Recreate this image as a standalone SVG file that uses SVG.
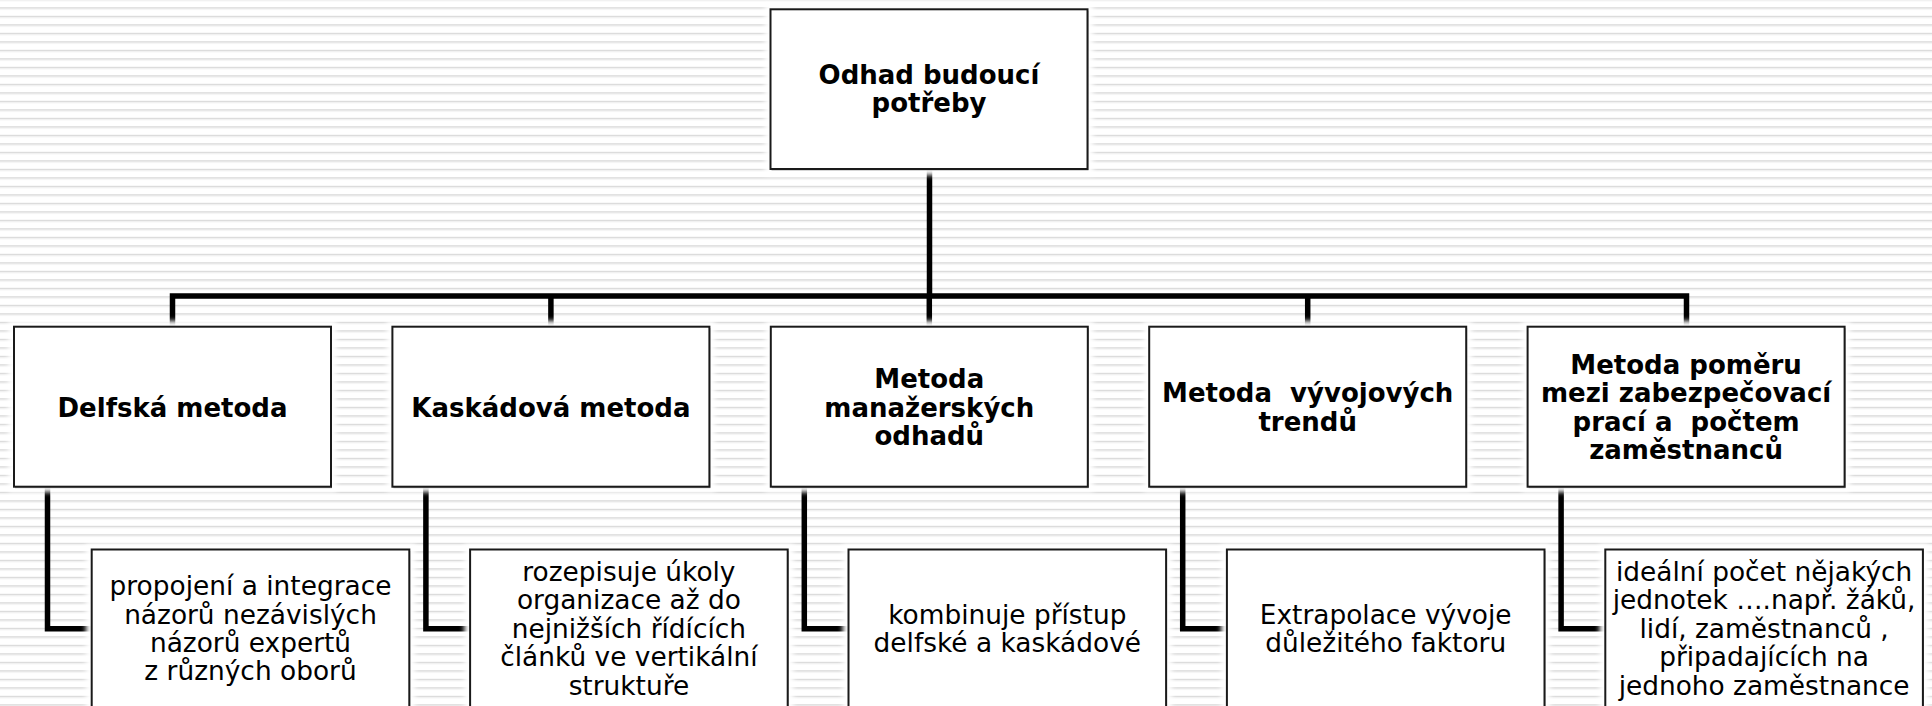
<svg xmlns="http://www.w3.org/2000/svg" width="1932" height="706" viewBox="0 0 1932 706">
<defs>
  <pattern id="stripes" patternUnits="userSpaceOnUse" x="0" y="-1.2" width="1932" height="8.5">
    <rect x="0" y="0" width="1932" height="1.3" fill="#d6d6d6"/>
    <rect x="0" y="1.3" width="1932" height="1" fill="#ececec"/>
  </pattern>
  <filter id="blur" x="-10%" y="-10%" width="120%" height="120%">
    <feGaussianBlur stdDeviation="2.5"/>
  </filter>
</defs>
<style>
  .halo{fill:#ffffff;filter:url(#blur)}
  .shadow{fill:#6a6a6a;opacity:0.55}
  .box{fill:#ffffff;stroke:#1a1a1a;stroke-width:2}
  .b{font-family:"DejaVu Sans",Verdana,sans-serif;font-weight:bold;font-size:26px;text-anchor:middle;fill:#000;white-space:pre}
  .r{font-family:"DejaVu Sans",Verdana,sans-serif;font-weight:normal;font-size:26.4px;text-anchor:middle;fill:#000;white-space:pre}
  .conn{stroke:#000;stroke-width:5.5;fill:none;stroke-linejoin:miter}
</style>
<rect x="0" y="0" width="1932" height="706" fill="#ffffff"/>
<rect x="0" y="0" width="1932" height="706" fill="url(#stripes)"/>

<g id="connectors">
  <path class="conn" d="M929.5,169 V296"/>
  <path class="conn" d="M172.5,327 V296 H1686.5 V327"/>
  <path class="conn" d="M550.9,296 V327"/>
  <path class="conn" d="M929.3,296 V327"/>
  <path class="conn" d="M1307.7,296 V327"/>
  <path class="conn" d="M47.5,486.7 V628.7 H92"/>
  <path class="conn" d="M425.9,486.7 V628.7 H470.4"/>
  <path class="conn" d="M804.3,486.7 V628.7 H848.8"/>
  <path class="conn" d="M1182.7,486.7 V628.7 H1227.2"/>
  <path class="conn" d="M1561.1,486.7 V628.7 H1605.6"/>
</g>

<g id="root">
  <rect class="halo" x="765" y="4" width="328" height="171"/>
  <rect class="shadow" x="771.5" y="10.8" width="317" height="159.7"/>
  <rect class="box" x="770.5" y="9.3" width="317" height="159.7"/>
  <text class="b" x="929" y="83.8">Odhad budoucí</text>
  <text class="b" x="929" y="112.3">potřeby</text>
</g>

<g id="delfska">
  <rect class="halo" x="8.5" y="321" width="328" height="171"/>
  <rect class="shadow" x="15" y="328.2" width="317" height="160"/>
  <rect class="box" x="14" y="326.7" width="317" height="160"/>
  <text class="b" x="172.5" y="417.3">Delfská metoda</text>
</g>

<g id="kaskadova">
  <rect class="halo" x="386.9" y="321" width="328" height="171"/>
  <rect class="shadow" x="393.4" y="328.2" width="317" height="160"/>
  <rect class="box" x="392.4" y="326.7" width="317" height="160"/>
  <text class="b" x="550.9" y="417.3">Kaskádová metoda</text>
</g>

<g id="manazerske">
  <rect class="halo" x="765.3" y="321" width="328" height="171"/>
  <rect class="shadow" x="771.8" y="328.2" width="317" height="160"/>
  <rect class="box" x="770.8" y="326.7" width="317" height="160"/>
  <text class="b" x="929.3" y="388">Metoda</text>
  <text class="b" x="929.3" y="416.5">manažerských</text>
  <text class="b" x="929.3" y="445">odhadů</text>
</g>

<g id="trendy">
  <rect class="halo" x="1143.7" y="321" width="328" height="171"/>
  <rect class="shadow" x="1150.2" y="328.2" width="317" height="160"/>
  <rect class="box" x="1149.2" y="326.7" width="317" height="160"/>
  <text class="b" x="1307.7" y="402.3">Metoda  vývojových</text>
  <text class="b" x="1307.7" y="430.8">trendů</text>
</g>

<g id="pomer">
  <rect class="halo" x="1522.1" y="321" width="328" height="171"/>
  <rect class="shadow" x="1528.6" y="328.2" width="317" height="160"/>
  <rect class="box" x="1527.6" y="326.7" width="317" height="160"/>
  <text class="b" x="1686.1" y="373.8">Metoda poměru</text>
  <text class="b" x="1686.1" y="402.3">mezi zabezpečovací</text>
  <text class="b" x="1686.1" y="430.8">prací a  počtem</text>
  <text class="b" x="1686.1" y="459.3">zaměstnanců</text>
</g>

<g id="delfska-popis">
  <rect class="halo" x="86" y="544" width="329" height="180"/>
  <rect class="shadow" x="92.7" y="551" width="317.6" height="170"/>
  <rect class="box" x="91.7" y="549.5" width="317.6" height="170"/>
  <text class="r" x="250.5" y="595.1">propojení a integrace</text>
  <text class="r" x="250.5" y="623.5">názorů nezávislých</text>
  <text class="r" x="250.5" y="651.9">názorů expertů</text>
  <text class="r" x="250.5" y="680.3">z různých oborů</text>
</g>

<g id="kaskadova-popis">
  <rect class="halo" x="464.4" y="544" width="329" height="180"/>
  <rect class="shadow" x="471.1" y="551" width="317.6" height="170"/>
  <rect class="box" x="470.1" y="549.5" width="317.6" height="170"/>
  <text class="r" x="628.9" y="580.9">rozepisuje úkoly</text>
  <text class="r" x="628.9" y="609.3">organizace až do</text>
  <text class="r" x="628.9" y="637.7">nejnižších řídících</text>
  <text class="r" x="628.9" y="666.1">článků ve vertikální</text>
  <text class="r" x="628.9" y="694.5">struktuře</text>
</g>

<g id="manazerske-popis">
  <rect class="halo" x="842.8" y="544" width="329" height="180"/>
  <rect class="shadow" x="849.5" y="551" width="317.6" height="170"/>
  <rect class="box" x="848.5" y="549.5" width="317.6" height="170"/>
  <text class="r" x="1007.3" y="623.5">kombinuje přístup</text>
  <text class="r" x="1007.3" y="651.9">delfské a kaskádové</text>
</g>

<g id="trendy-popis">
  <rect class="halo" x="1221.2" y="544" width="329" height="180"/>
  <rect class="shadow" x="1227.9" y="551" width="317.6" height="170"/>
  <rect class="box" x="1226.9" y="549.5" width="317.6" height="170"/>
  <text class="r" x="1385.7" y="623.5">Extrapolace vývoje</text>
  <text class="r" x="1385.7" y="651.9">důležitého faktoru</text>
</g>

<g id="pomer-popis">
  <rect class="halo" x="1599.6" y="544" width="329" height="180"/>
  <rect class="shadow" x="1606.3" y="551" width="317.6" height="170"/>
  <rect class="box" x="1605.3" y="549.5" width="317.6" height="170"/>
  <text class="r" x="1764.1" y="580.9">ideální počet nějakých</text>
  <text class="r" x="1764.1" y="609.3">jednotek ….např. žáků,</text>
  <text class="r" x="1764.1" y="637.7">lidí, zaměstnanců ,</text>
  <text class="r" x="1764.1" y="666.1">připadajících na</text>
  <text class="r" x="1764.1" y="694.5">jednoho zaměstnance</text>
</g>
</svg>
